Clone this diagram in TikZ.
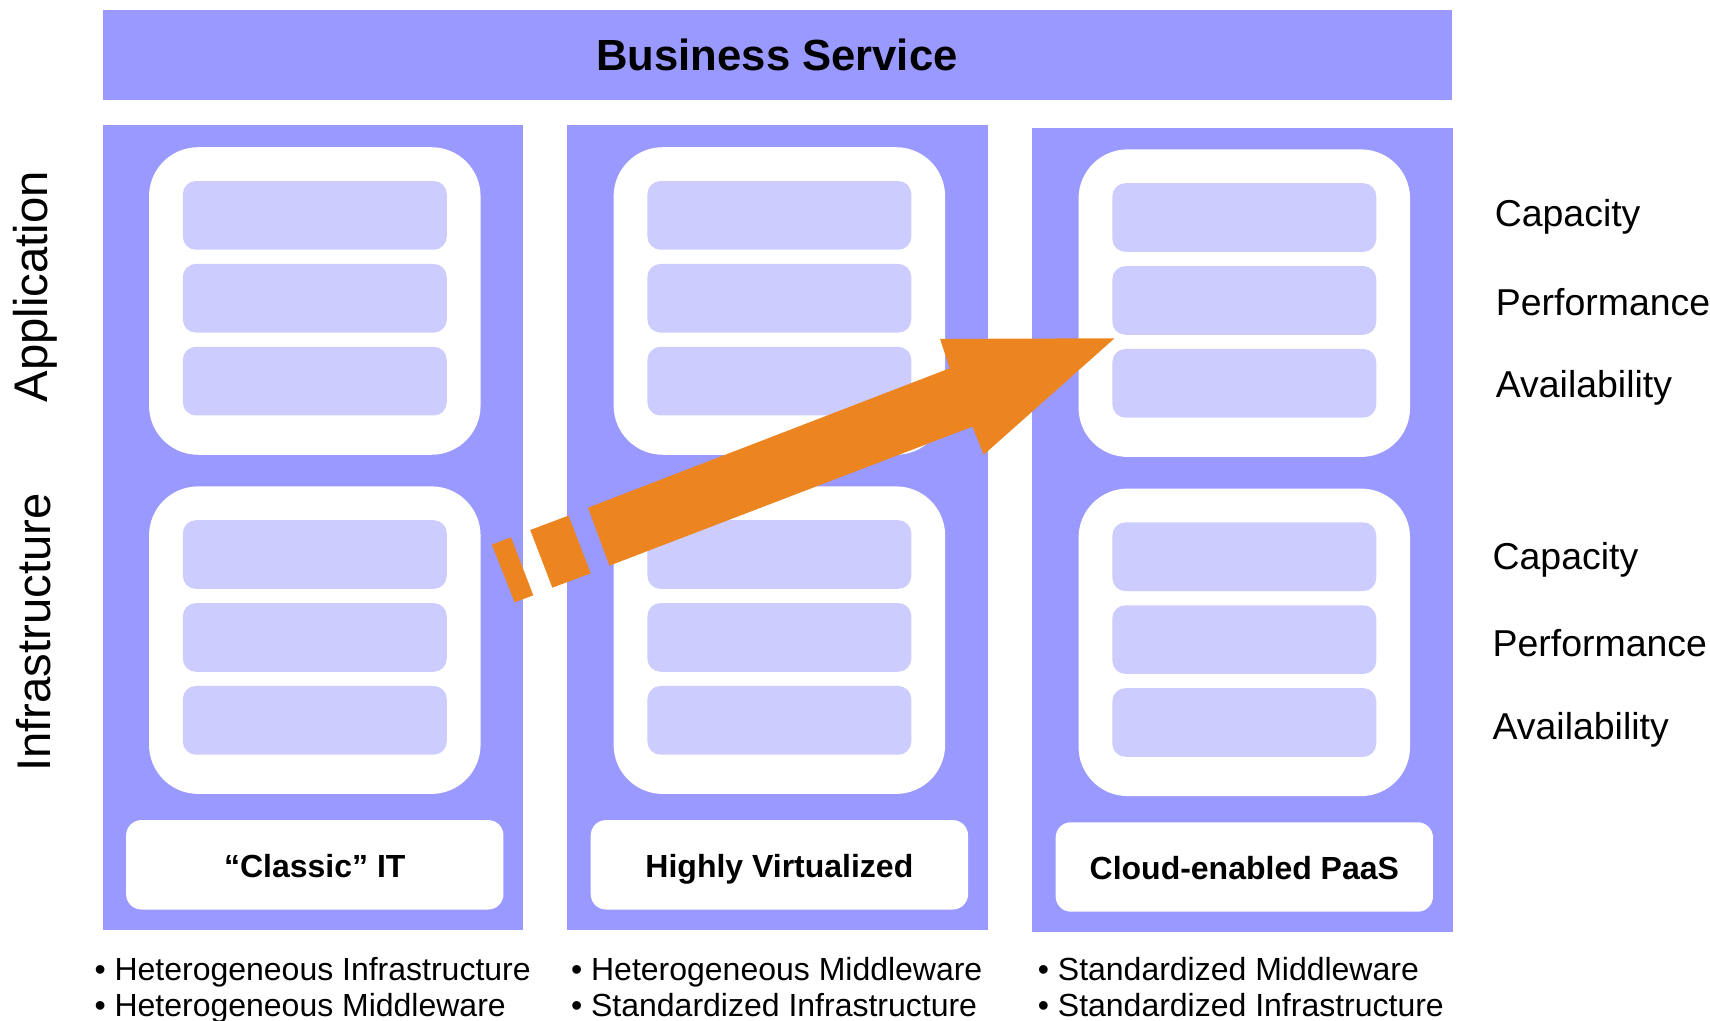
\documentclass[tikz,border=0pt]{standalone}
\usepackage{fontspec}
\setmainfont{Liberation Sans}
\usepackage{tikz}
\usetikzlibrary{positioning,calc}
\definecolor{tierblue}{RGB}{153,153,255}
\definecolor{barblue}{RGB}{204,204,255}
\definecolor{arroworange}{RGB}{236,133,32}
\tikzset{
    column/.style={
        rectangle,
        fill=tierblue,
        inner sep=0pt,
        outer sep=0pt,
        minimum width=115.8pt,
        minimum height=221.4pt,
    },
    stack/.style={
        rectangle,
        rounded corners=13.5pt,
        fill=white,
        inner sep=0pt,
        outer sep=0pt,
        minimum width=91.2pt,
        minimum height=84.6pt,
    },
    bar/.style={
        rectangle,
        rounded corners=3.6pt,
        fill=barblue,
        inner sep=0pt,
        outer sep=0pt,
        minimum width=72.6pt,
        minimum height=18.9pt,
    },
    tag/.style={
        rectangle,
        rounded corners=4.2pt,
        fill=white,
        inner sep=0pt,
        outer sep=0pt,
        text height=0.75em,
        text depth=0.04em,
        minimum width=103.8pt,
        minimum height=24.6pt,
        font=\fontsize{8.8}{10}\selectfont\bfseries,
    },
    bullet/.style={anchor=base west, inner sep=0pt, font=\fontsize{8.8}{10}\selectfont},
    quality/.style={anchor=west, inner sep=0pt, font=\fontsize{10.3}{12}\selectfont},
    layer/.style={rotate=90, inner sep=0pt, font=\fontsize{13}{15}\selectfont},
}

\begin{document}
\begin{tikzpicture}[x=0.3pt, y=-0.3pt]
\useasboundingbox (0,0) rectangle (1568,936);

% Business Service
\node
[
    rectangle,
    fill=tierblue,
    minimum width=371.1pt,
    minimum height=24.9pt,
    font=\fontsize{12}{14}\selectfont\bfseries
] (service) at (712.5,50.5) {Business Service};

% Classic IT
\node [column] (col1) at (287,484) {};
\node [stack, below=6pt of col1.north, xshift=0.5pt] (app1) {};
\node [stack, below=8.7pt of app1] (infra1) {};
\node [tag, below=7.2pt of infra1] (tag1) {“Classic” IT};
% Highly Virtualized
\node [column, right=12pt of col1] (col2) {};
\node [stack, below=6pt of col2.north, xshift=0.5pt] (app2) {};
\node [stack, below=8.7pt of app2] (infra2) {};
\node [tag, below=7.2pt of infra2] (tag2) {Highly Virtualized};
% Cloud-enabled PaaS
\node [column, right=12.1pt of col2, yshift=-0.6pt] (col3) {};
\node [stack, below=6pt of col3.north, xshift=0.5pt] (app3) {};
\node [stack, below=8.7pt of app3] (infra3) {};
\node [tag, below=7.2pt of infra3] (tag3) {Cloud-enabled PaaS};

% Bars in every stack
\foreach \c in {1,2,3} {
    \foreach \s in {app,infra} {
        \node [bar, below=9.3pt of \s\c.north] (\s\c-1) {};
        \node [bar, below=3.9pt of \s\c-1] (\s\c-2) {};
        \node [bar, below=3.9pt of \s\c-2] (\s\c-3) {};
    }
}

% Layers
\node [layer] (app-lab) at (32,263) {Application};
\node [layer] (infra-lab) at (31,580) {Infrastructure};

% Qualities
\node [quality] (cap-a) at (1370,199) {Capacity};
\node [quality] (perf-a) at (1371,277) {Performance};
\node [quality] (avail-a) at (1371,356) {Availability};
\node [quality] (cap-i) at (1368,513) {Capacity};
\node [quality] (perf-i) at (1368,590) {Performance};
\node [quality] (avail-i) at (1368,669) {Availability};

% Characteristics
\node [bullet] (char1a) at (86,899) {• Heterogeneous Infrastructure};
\node [bullet] (char1b) at (86,932) {• Heterogeneous Middleware};
\node [bullet] (char2a) at (523,899) {• Heterogeneous Middleware};
\node [bullet] (char2b) at (523,932) {• Standardized Infrastructure};
\node [bullet] (char3a) at (951,899) {• Standardized Middleware};
\node [bullet] (char3b) at (951,932) {• Standardized Infrastructure};

% Evolution arrow
\fill [arroworange] (451,499.4) -- (468.6,492.7) -- (489,545.9) -- (471.9,552.3) -- cycle;
\fill [arroworange] (486.2,486) -- (521.3,472.8) -- (541.7,525.7) -- (506.5,538.9) -- cycle;
\fill [arroworange] (539.2,465.5) -- (870.9,337.7) -- (862,310.8) -- (1022,310.2)
    -- (902,417) -- (891.7,391.2) -- (558.8,518.7) -- cycle;

\end{tikzpicture}
\end{document}
